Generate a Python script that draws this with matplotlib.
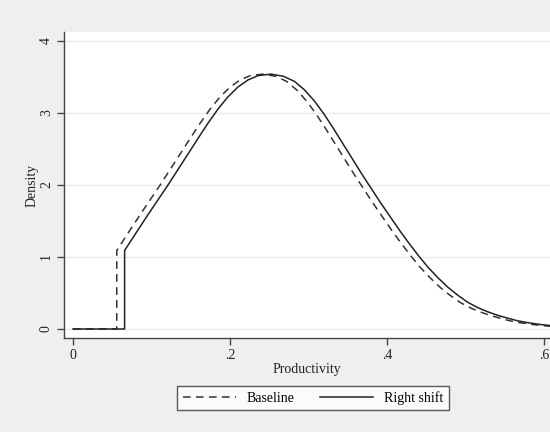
import matplotlib.pyplot as plt

# baseline density
base_x = [0.0, 0.0557, 0.0557, 0.070, 0.085, 0.098, 0.111, 0.124, 0.137, 0.150,
          0.162, 0.175, 0.187, 0.200, 0.213, 0.226, 0.242, 0.258, 0.272, 0.285,
          0.298, 0.310, 0.322, 0.334, 0.346, 0.358, 0.370, 0.382, 0.394, 0.406,
          0.418, 0.430, 0.442, 0.455, 0.4675, 0.480, 0.493, 0.505, 0.518, 0.531,
          0.544, 0.556, 0.569, 0.585, 0.603, 0.615]
base_y = [0.0, 0.0, 1.09, 1.33, 1.58, 1.79, 2.00, 2.22, 2.44, 2.66,
          2.86, 3.06, 3.22, 3.36, 3.46, 3.52, 3.54, 3.51, 3.44, 3.32,
          3.16, 2.98, 2.78, 2.57, 2.36, 2.15, 1.95, 1.75, 1.56, 1.37,
          1.19, 1.02, 0.86, 0.71, 0.58, 0.47, 0.37, 0.30, 0.24, 0.19,
          0.15, 0.115, 0.088, 0.063, 0.042, 0.032]

# right-shifted density
shift_x = [0.0, 0.0657, 0.0657, 0.080, 0.095, 0.108, 0.121, 0.134, 0.147, 0.160,
           0.172, 0.185, 0.197, 0.210, 0.223, 0.236, 0.252, 0.268, 0.282, 0.295,
           0.308, 0.320, 0.332, 0.344, 0.356, 0.368, 0.380, 0.392, 0.404, 0.416,
           0.428, 0.440, 0.452, 0.465, 0.4775, 0.490, 0.503, 0.515, 0.528, 0.541,
           0.554, 0.566, 0.579, 0.595, 0.613, 0.625]
shift_y = [0.0, 0.0, 1.09, 1.33, 1.58, 1.79, 2.00, 2.22, 2.44, 2.66,
           2.86, 3.06, 3.22, 3.36, 3.46, 3.52, 3.54, 3.51, 3.44, 3.32,
           3.16, 2.98, 2.78, 2.57, 2.36, 2.15, 1.95, 1.75, 1.56, 1.37,
           1.19, 1.02, 0.86, 0.71, 0.58, 0.47, 0.37, 0.30, 0.24, 0.19,
           0.15, 0.115, 0.088, 0.063, 0.042, 0.032]

x_ticks = [0, 0.2, 0.4, 0.6]
x_labels = ['0', '.2', '.4', '.6']
y_ticks = [0, 1, 2, 3, 4]

plt.rcParams['font.family'] = ['Liberation Serif', 'DejaVu Serif']

fig = plt.figure(figsize=(5.5, 4.32), dpi=100, facecolor='#efefef')
ax = fig.add_axes([64 / 550, 1 - 338 / 432, 1 - 64 / 550, (338 - 32) / 432])
ax.set_facecolor('white')

ax.plot(base_x, base_y, color='#333333', lw=1.1, ls=(0, (5, 3.5)), label='Baseline')
ax.plot(shift_x, shift_y, color='#222222', lw=1.1, label='Right shift')

ax.set_xlim(-0.0115, 0.6076)
ax.set_ylim(-0.125, 4.125)
ax.set_xticks(x_ticks)
ax.set_xticklabels(x_labels)
ax.set_yticks(y_ticks)
ax.set_yticklabels([str(v) for v in y_ticks], rotation=90, va='center')

for s in ['top', 'right']:
    ax.spines[s].set_visible(False)
for s in ['left', 'bottom']:
    ax.spines[s].set_color('#444444')
    ax.spines[s].set_linewidth(1.0)
ax.tick_params(direction='out', length=5, width=1, color='#444444',
               labelsize=10, labelcolor='#222222', pad=3)
ax.grid(axis='y', color='#eaeaea', lw=1)
ax.set_axisbelow(True)

ax.set_xlabel('Productivity', fontsize=10, color='#222222', labelpad=1)
ax.set_ylabel('Density', fontsize=10, color='#222222', labelpad=1)

leg = fig.legend(loc='center', bbox_to_anchor=(313 / 550, 1 - 398 / 432), ncol=2,
                 fontsize=10, frameon=True, fancybox=False, edgecolor='#333333',
                 handlelength=3.8, handletextpad=0.8, columnspacing=1.8,
                 borderpad=0.4)
leg.get_frame().set_linewidth(1.0)

fig.savefig('out.png', dpi=100, facecolor=fig.get_facecolor())
